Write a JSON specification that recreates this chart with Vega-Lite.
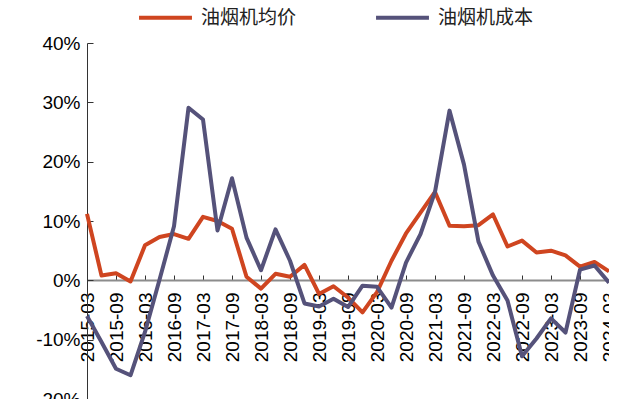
{
  "$schema": "https://vega.github.io/schema/vega-lite/v6.json",
  "autosize": "none",
  "width": 522,
  "height": 356,
  "padding": {"left": 87, "top": 43, "right": 0, "bottom": 0},
  "background": "white",
  "config": {
    "view": {"stroke": null},
    "font": "Liberation Sans"
  },
  "datasets": {
    "wide": [
      {"date": "2015-03", "p": 11.2, "c": -6.0},
      {"date": "2015-06", "p": 0.8, "c": -10.4},
      {"date": "2015-09", "p": 1.2, "c": -14.9},
      {"date": "2015-12", "p": -0.2, "c": -16.0},
      {"date": "2016-03", "p": 5.9, "c": -8.7},
      {"date": "2016-06", "p": 7.3, "c": 0.1},
      {"date": "2016-09", "p": 7.8, "c": 9.1},
      {"date": "2016-12", "p": 7.0, "c": 29.1},
      {"date": "2017-03", "p": 10.7, "c": 27.1},
      {"date": "2017-06", "p": 10.0, "c": 8.4},
      {"date": "2017-09", "p": 8.7, "c": 17.2},
      {"date": "2017-12", "p": 0.6, "c": 7.2},
      {"date": "2018-03", "p": -1.4, "c": 1.7},
      {"date": "2018-06", "p": 1.1, "c": 8.6},
      {"date": "2018-09", "p": 0.6, "c": 3.3},
      {"date": "2018-12", "p": 2.6, "c": -3.9},
      {"date": "2019-03", "p": -2.3, "c": -4.4},
      {"date": "2019-06", "p": -1.0, "c": -3.1},
      {"date": "2019-09", "p": -2.9, "c": -4.5},
      {"date": "2019-12", "p": -5.4, "c": -0.9},
      {"date": "2020-03", "p": -2.0, "c": -1.1},
      {"date": "2020-06", "p": 3.3, "c": -4.6},
      {"date": "2020-09", "p": 7.9, "c": 3.0},
      {"date": "2020-12", "p": 11.4, "c": 7.8},
      {"date": "2021-03", "p": 14.9, "c": 14.9},
      {"date": "2021-06", "p": 9.2, "c": 28.6},
      {"date": "2021-09", "p": 9.1, "c": 19.5},
      {"date": "2021-12", "p": 9.3, "c": 6.5},
      {"date": "2022-03", "p": 11.1, "c": 0.8},
      {"date": "2022-06", "p": 5.7, "c": -3.4},
      {"date": "2022-09", "p": 6.7, "c": -12.8},
      {"date": "2022-12", "p": 4.7, "c": -9.8},
      {"date": "2023-03", "p": 5.0, "c": -6.4},
      {"date": "2023-06", "p": 4.2, "c": -8.8},
      {"date": "2023-09", "p": 2.3, "c": 1.8},
      {"date": "2023-12", "p": 3.1, "c": 2.5},
      {"date": "2024-03", "p": 1.5, "c": -0.4}
    ]
  },
  "data": {"name": "wide"},
  "transform": [
    {"fold": ["p", "c"], "as": ["key", "pct"]},
    {"lookup": "key", "from": {"data": {"values": [{"key": "p", "series": "油烟机均价"}, {"key": "c", "series": "油烟机成本"}]}, "key": "key", "fields": ["series"]}}
  ],
  "mark": {"type": "line", "strokeWidth": 4, "strokeJoin": "round", "strokeCap": "butt"},
  "encoding": {
    "x": {
      "field": "date",
      "type": "ordinal",
      "scale": {"type": "point", "padding": 0},
      "axis": {
        "title": null,
        "offset": -119,
        "values": ["2015-03","2015-09","2016-03","2016-09","2017-03","2017-09","2018-03","2018-09","2019-03","2019-09","2020-03","2020-09","2021-03","2021-09","2022-03","2022-09","2023-03","2023-09","2024-03"],
        "labelAngle": 270,
        "labelAlign": "right",
        "labelBaseline": "middle",
        "labelFontSize": 19,
        "labelColor": "#000000",
        "labelPadding": 17,
        "labelFont": "Liberation Sans",
        "tickSize": -5,
        "tickColor": "#333333",
        "tickWidth": 1,
        "domainColor": "#8c8c8c",
        "domainWidth": 2,
        "labelOverlap": false,
        "zindex": 0
      }
    },
    "y": {
      "field": "pct",
      "type": "quantitative",
      "scale": {"domain": [-20, 40], "nice": false},
      "axis": {
        "title": null,
        "values": [-20, -10, 0, 10, 20, 30, 40],
        "labelExpr": "datum.value + '%'",
        "grid": false,
        "labelFontSize": 19,
        "labelColor": "#000000",
        "labelFont": "Liberation Sans",
        "labelPadding": 13,
        "tickSize": -6,
        "tickColor": "#333333",
        "domainColor": "#333333",
        "domainWidth": 1
      }
    },
    "color": {
      "field": "series",
      "type": "nominal",
      "scale": {"domain": ["油烟机均价", "油烟机成本"], "range": ["#CF4520", "#55527A"]},
      "legend": {
        "title": null,
        "orient": "none",
        "direction": "horizontal",
        "legendX": 50,
        "legendY": -54,
        "symbolType": "stroke",
        "symbolSize": 2800,
        "symbolStrokeWidth": 4,
        "labelFont": "Noto Sans CJK SC",
        "labelFontSize": 19,
        "labelColor": "#222222",
        "labelOffset": 7,
        "columnPadding": 71,
        "labelLimit": 0
      }
    }
  }
}
